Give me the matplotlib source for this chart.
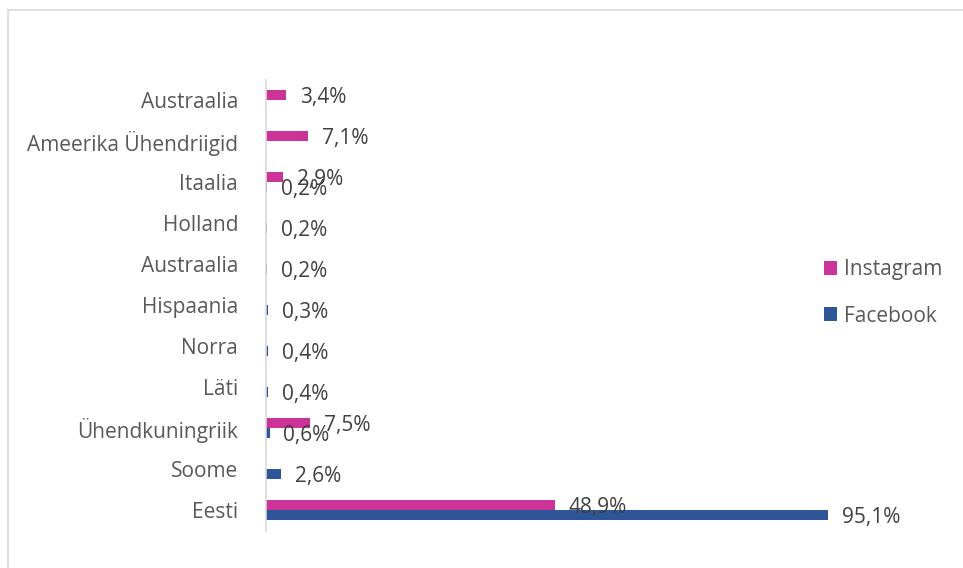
import matplotlib.pyplot as plt
import numpy as np
from matplotlib.patches import Rectangle

plt.rcParams['font.family'] = ['Open Sans', 'DejaVu Sans']

# categories from bottom to top
riigid = ['Eesti', 'Soome', 'Ühendkuningriik', 'Läti', 'Norra', 'Hispaania',
          'Austraalia', 'Holland', 'Itaalia', 'Ameerika Ühendriigid', 'Austraalia']
instagram = [48.9, None, 7.5, None, None, None, None, None, 2.9, 7.1, 3.4]
facebook = [95.1, 2.6, 0.6, 0.4, 0.4, 0.3, 0.2, 0.2, 0.2, None, None]

pink = '#CC3399'
blue = '#2E5597'
fs = 15

fig = plt.figure(figsize=(9.63, 5.68), dpi=100)
W, H = 963, 568
ax = fig.add_axes([266 / W, 1 - 530.5 / H, (857 - 266) / W, (530.5 - 79.5) / H])

y = np.arange(len(riigid))
h = 0.245

def draw(vals, off, color, name):
    ys = [y[i] + off for i, v in enumerate(vals) if v is not None]
    vs = [v for v in vals if v is not None]
    ax.barh(ys, vs, height=h, color=color, label=name)
    for yy, v in zip(ys, vs):
        ax.annotate(f'{v:.1f}%'.replace('.', ','), (v, yy), xytext=(10, -2),
                    textcoords='offset points', va='center', ha='left',
                    fontsize=fs, color='#404040')

draw(facebook, -h / 2, blue, 'Facebook')
draw(instagram, h / 2, pink, 'Instagram')

ax.set_xlim(0, 100)
ax.set_ylim(-0.5, len(riigid) - 0.5)
ax.set_yticks(y)
ax.set_yticklabels(riigid, fontsize=fs, color='#595959')
ax.tick_params(axis='y', length=0, pad=20)
ax.set_xticks([])
for s in ['top', 'right', 'bottom']:
    ax.spines[s].set_visible(False)
ax.spines['left'].set_color('#D9D9D9')
ax.spines['left'].set_linewidth(1.2)

handles, labels = ax.get_legend_handles_labels()
leg = fig.legend(handles[::-1], labels[::-1], loc='center left',
                 bbox_to_anchor=(805 / W, 1 - 293 / H), frameon=False,
                 fontsize=fs, handlelength=0.65, handleheight=0.65,
                 handletextpad=0.3, labelspacing=1.2)
for t in leg.get_texts():
    t.set_color('#595959')

fig.patches.append(Rectangle((7.5 / W, -0.1), 1.2, 1 - 10 / H + 0.1,
                             transform=fig.transFigure, fill=False,
                             edgecolor='#D9D9D9', linewidth=1.2))

fig.savefig('out.png', dpi=100)
